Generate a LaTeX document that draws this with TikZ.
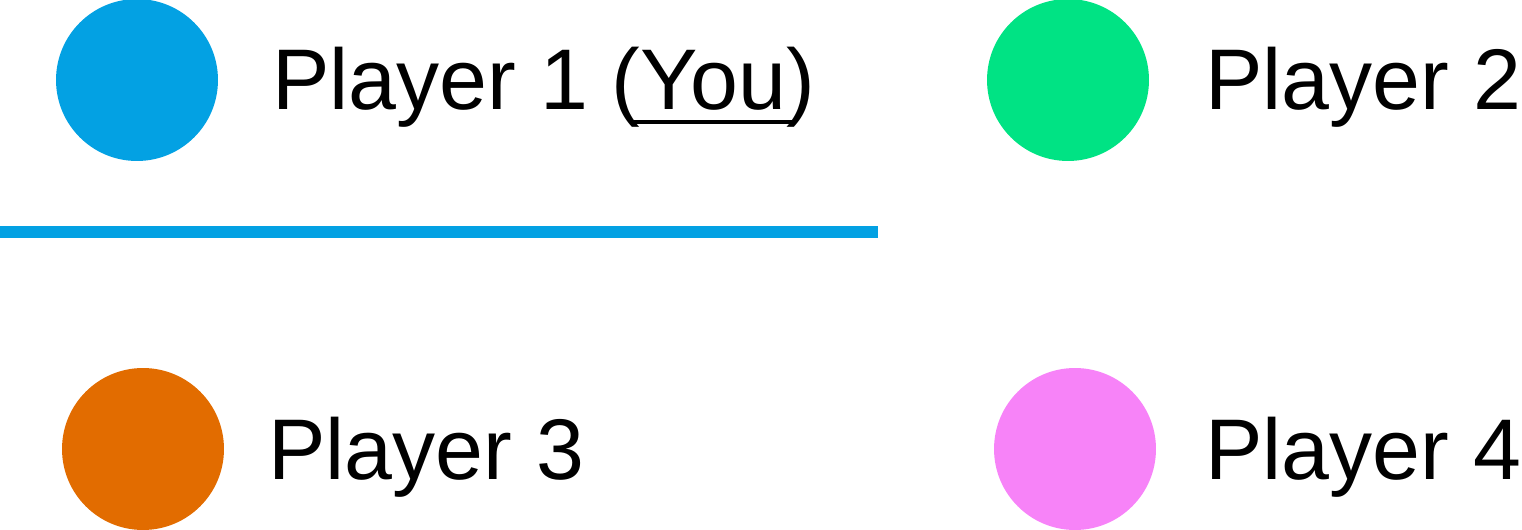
\documentclass[tikz,border=0pt]{standalone}
\usepackage{fontspec}
\setmainfont{Liberation Sans}
\usetikzlibrary{positioning}
\definecolor{playerone}{RGB}{3,161,227}
\definecolor{playertwo}{RGB}{0,227,132}
\definecolor{playerthree}{RGB}{226,108,0}
\definecolor{playerfour}{RGB}{247,131,248}
% underline for the own player's name
\newcommand{\yourule}[1]{\setbox0\hbox{#1}%
  \rlap{\kern-0.12em\rule[-0.16em]{\dimexpr\wd0+0.2em\relax}{0.04em}}#1}

\begin{document}
\begin{tikzpicture}[x=0.02cm, y=-0.02cm,
    dot/.style={circle, minimum size=3.24cm, inner sep=0pt},
    playername/.style={anchor=base west, inner sep=0pt,
      font=\fontsize{49}{58}\selectfont}]
  \useasboundingbox (0,0) rectangle (1522,530);
  % top row
  \node[dot, fill=playerone] (one) at (137,80) {};
  \node[playername] (onename) at (272,110) {Player 1 (\yourule{You})};
  \node[dot, fill=playertwo] (two) at (1068,80) {};
  \node[playername] (twoname) at (1205,110) {Player 2};
  % divider under the own player
  \coordinate (divleft) at (0,232);
  \coordinate (divright) at (878,232);
  \draw[playerone, line width=0.24cm] (divleft) -- (divright);
  % bottom row
  \node[dot, fill=playerthree] (three) at (143,449) {};
  \node[playername] (threename) at (268,479) {Player 3};
  \node[dot, fill=playerfour] (four) at (1075,449) {};
  \node[playername] (fourname) at (1205,479) {Player 4};
\end{tikzpicture}
\end{document}
